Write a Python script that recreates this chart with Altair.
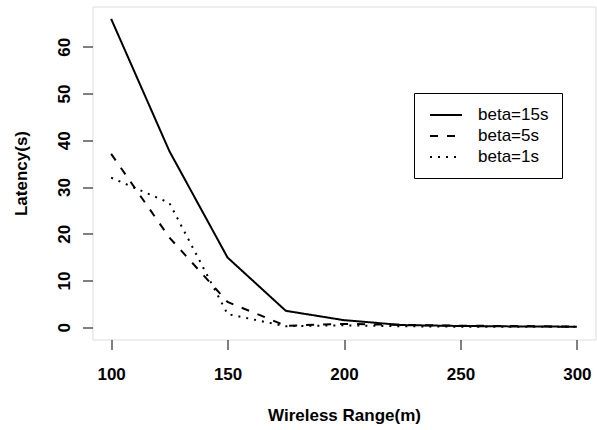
import altair as alt
import pandas as pd

ranges = [100, 125, 150, 175, 200, 225, 250, 275, 300]
beta15 = [66.0, 37.7, 14.9, 3.5, 1.5, 0.45, 0.25, 0.15, 0.1]
beta5 = [37.1, 19.2, 5.4, 0.3, 0.7, 0.5, 0.3, 0.25, 0.1]
beta1 = [32.0, 26.6, 2.8, 0.2, 0.4, 0.2, 0.1, 0.1, 0.1]
series = ["beta=15s", "beta=5s", "beta=1s"]
x_ticks = [100, 150, 200, 250, 300]
y_ticks = [0, 10, 20, 30, 40, 50, 60]

rows = []
for name, vals in zip(series, [beta15, beta5, beta1]):
    for x, v in zip(ranges, vals):
        rows.append({"range": x, "latency": v, "series": name})
df = pd.DataFrame(rows)

FONT = "Liberation Sans"

chart = alt.Chart(df).mark_line(color="black", strokeWidth=2).encode(
    x=alt.X("range:Q",
            scale=alt.Scale(domain=[92, 308], nice=False, zero=False),
            axis=alt.Axis(values=x_ticks, title="Wireless Range(m)", grid=False, domain=False,
                          tickSize=10, tickColor="black", tickWidth=1,
                          labelFont=FONT, labelFontSize=17, labelFontWeight="bold", labelColor="black",
                          labelBaseline="alphabetic", labelPadding=30, labelFlush=False,
                          labelOverlap=False,
                          titleFont=FONT, titleFontSize=17, titleFontWeight="bold", titleColor="black",
                          titleBaseline="alphabetic", titleAlign="center", titleX=251.5, titleY=81)),
    y=alt.Y("latency:Q",
            scale=alt.Scale(domain=[-2.64, 68.64], nice=False, zero=False),
            axis=alt.Axis(values=y_ticks, title="Latency(s)", grid=False, domain=False,
                          tickSize=10, tickColor="black", tickWidth=1,
                          labelFont=FONT, labelFontSize=17, labelFontWeight="bold", labelColor="black",
                          labelAngle=270, labelAlign="center", labelBaseline="alphabetic",
                          labelPadding=13, labelFlush=False, labelOverlap=False,
                          titleFont=FONT, titleFontSize=17, titleFontWeight="bold", titleColor="black",
                          titleAngle=270, titleBaseline="alphabetic", titleAlign="center",
                          titleX=-66.5, titleY=166.5)),
    strokeDash=alt.StrokeDash("series:N",
                              scale=alt.Scale(domain=series, range=[[1, 0], [8, 9], [2, 6]]),
                              legend=alt.Legend(title=None, orient="none", legendX=321.5, legendY=86.5,
                                                padding=13, strokeColor="black", fillColor="white",
                                                symbolType="M-2,0H2", symbolSize=256,
                                                symbolStrokeWidth=2, symbolStrokeColor="black",
                                                symbolFillColor="transparent",
                                                symbolOffset=10, labelOffset=23, rowPadding=4,
                                                labelFont=FONT, labelFontSize=17, labelColor="black")),
    detail="series:N",
).properties(
    width=503, height=333,
    autosize=alt.AutoSizeParams(type="none"),
    padding={"left": 92.5, "top": 6.5, "right": 1.5, "bottom": 90.5},
).configure_view(stroke="black", strokeWidth=1).configure(background="white")

chart.save("out.html", embed_options={"renderer": "svg", "actions": False})
